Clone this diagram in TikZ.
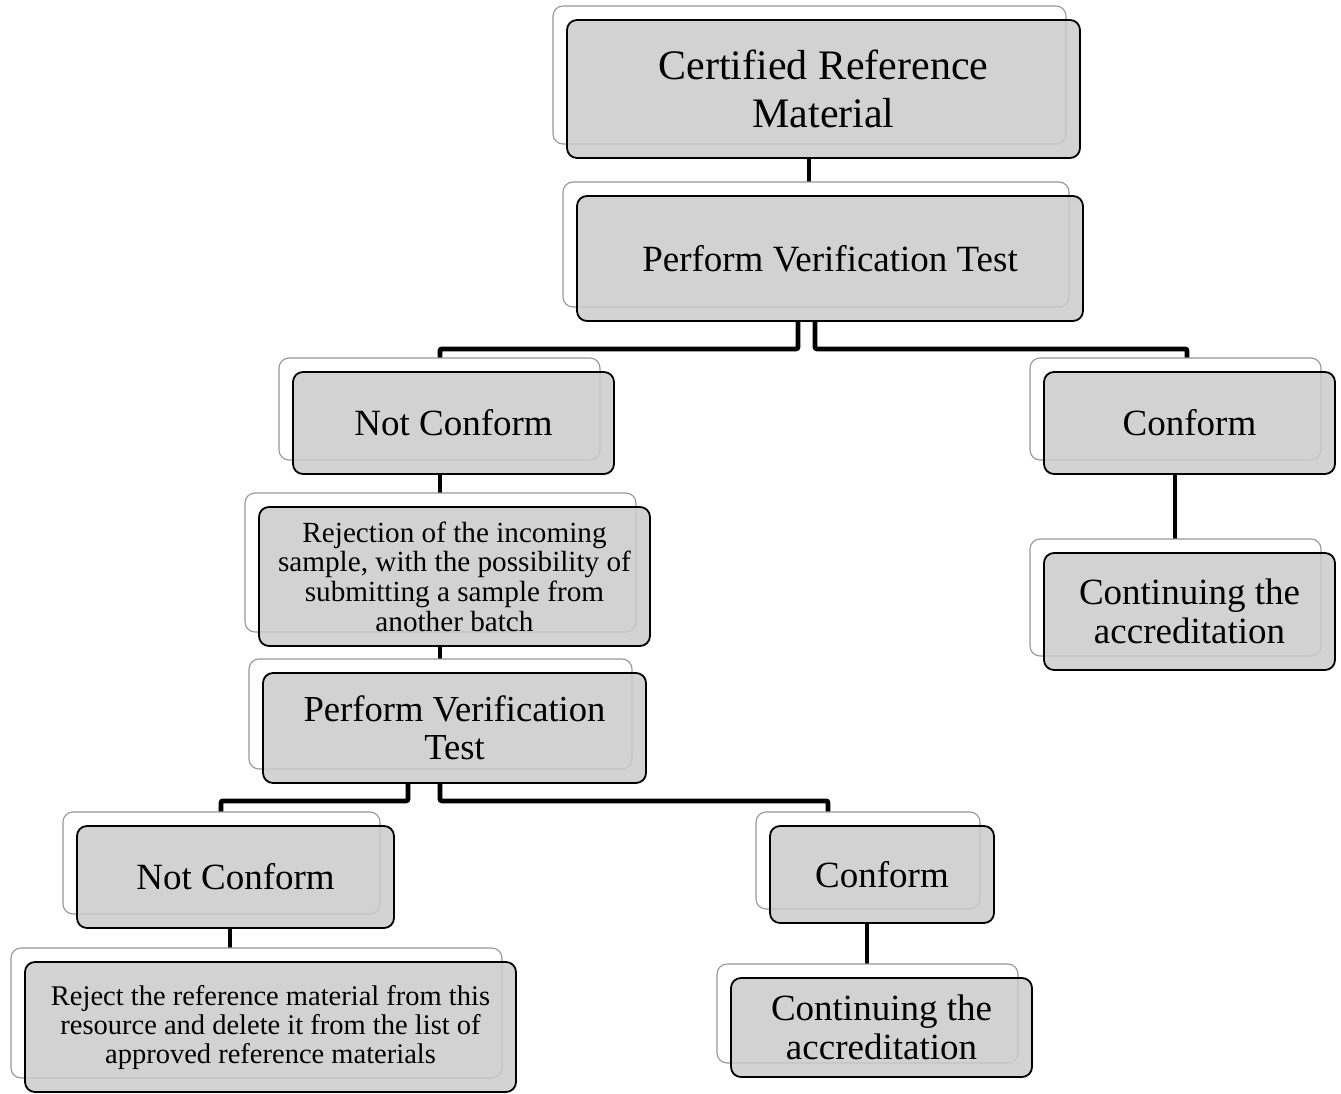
\documentclass[tikz,border=0pt]{standalone}
\usepackage{fontspec}
\setmainfont{Liberation Serif}
\usetikzlibrary{shadows}
\definecolor{boxgray}{RGB}{203,203,203}
\definecolor{edgegray}{RGB}{150,150,150}
\pgfdeclarelayer{background}
\pgfsetlayers{background,main}
\tikzset{
  link/.style={black,line width=4.8pt,rounded corners=2pt},
  stepbox/.style={draw=black,line width=1.8pt,rounded corners=10pt,fill=boxgray,
                  fill opacity=0.85,text opacity=1,align=center,inner sep=0pt,
                  copy shadow={shadow xshift=-14pt,shadow yshift=14pt,fill=white,
                  draw=edgegray,line width=1.1pt,fill opacity=1,draw opacity=1}},
  huge/.style={font=\fontsize{42}{48}\selectfont},
  big/.style={font=\fontsize{37}{39}\selectfont},
  mid/.style={font=\fontsize{36.6}{38}\selectfont},
  small/.style={font=\fontsize{29.2}{29.6}\selectfont},
  tiny/.style={font=\fontsize{28.5}{29}\selectfont},
}
\begin{document}
\begin{tikzpicture}[x=1pt,y=-1pt]
  \path[use as bounding box] (0,0) rectangle (1341,1094);

  % first test
  \node[stepbox,huge,minimum width=513pt,minimum height=138pt] (crm) at (823.5,89)
    {Certified Reference\\Material};
  \node[stepbox,big,minimum width=506pt,minimum height=125pt] (pvtA) at (830,258.5)
    {Perform Verification Test};
  \node[stepbox,big,minimum width=321pt,minimum height=102pt] (ncA) at (453.5,423)
    {Not Conform};
  \node[stepbox,big,minimum width=291pt,minimum height=102pt] (cfA) at (1189.5,423)
    {Conform};
  \node[stepbox,small,minimum width=391pt,minimum height=139pt] (rej) at (454.5,576.5)
    {Rejection of the incoming\\sample, with the possibility of\\submitting a sample from\\another batch};
  \node[stepbox,big,minimum width=291pt,minimum height=117pt] (contA) at (1189.5,611.5)
    {Continuing the\\accreditation};

  % second test
  \node[stepbox,mid,minimum width=383pt,minimum height=110pt] (pvtB) at (454.5,728)
    {Perform Verification\\Test};
  \node[stepbox,big,minimum width=317pt,minimum height=102pt] (ncB) at (235.5,877)
    {Not Conform};
  \node[stepbox,big,minimum width=224pt,minimum height=97pt] (cfB) at (882,874.5)
    {Conform};
  \node[stepbox,tiny,minimum width=491pt,minimum height=130pt] (rejB) at (270.5,1027)
    {Reject the reference material from this\\resource and delete it from the list of\\approved reference materials};
  \node[stepbox,big,minimum width=301pt,minimum height=99pt] (contB) at (881.5,1027.5)
    {Continuing the\\accreditation};

  \begin{pgfonlayer}{background}
    \draw[link] ([xshift=-14.5pt]crm.south) -- ([xshift=-14.5pt]crm.south |- pvtA.north);
    \draw[link] ([xshift=-32pt]pvtA.south) -- ++(0,27) -| ([xshift=-13.5pt]ncA.north);
    \draw[link] ([xshift=-15pt]pvtA.south) -- ++(0,27) -| ([xshift=-2.5pt]cfA.north);
    \draw[link] ([xshift=-14.5pt]cfA.south) -- ([xshift=-14.5pt]cfA.south |- contA.north);
    \draw[link] ([xshift=-13.5pt]ncA.south) -- ([xshift=-13.5pt]ncA.south |- rej.north);
    \draw[link] ([xshift=-14.5pt]rej.south) -- ([xshift=-14.5pt]rej.south |- pvtB.north);
    \draw[link] ([xshift=-46.5pt]pvtB.south) -- ++(0,17) -| ([xshift=-14.5pt]ncB.north);
    \draw[link] ([xshift=-14.5pt]pvtB.south) -- ++(0,17) -| ([xshift=-54pt]cfB.north);
    \draw[link] ([xshift=-5.5pt]ncB.south) -- ([xshift=-5.5pt]ncB.south |- rejB.north);
    \draw[link] ([xshift=-15pt]cfB.south) -- ([xshift=-15pt]cfB.south |- contB.north);
  \end{pgfonlayer}
\end{tikzpicture}
\end{document}
